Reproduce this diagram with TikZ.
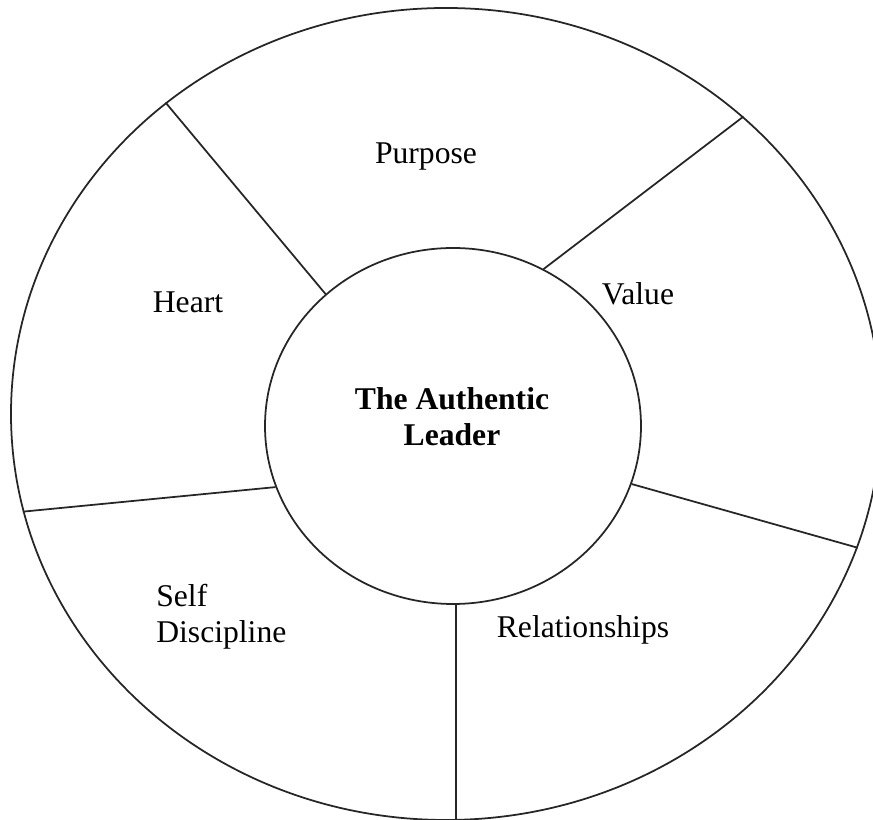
\documentclass[tikz,border=0pt]{standalone}
\usepackage{fontspec}
\setmainfont{Liberation Serif}
\usetikzlibrary{shapes.geometric}

\begin{document}
\begin{tikzpicture}[
        wheel/.style={draw=black!85, line width=1pt, ellipse, inner sep=0pt},
        spoke/.style={draw=black!85, line width=1pt},
        sector/.style={font=\fontsize{18}{20.5}\selectfont, inner sep=0pt}
    ]
    \useasboundingbox (0, 0) rectangle (17.46, 16.4);

    % rim and hub
    \node[wheel, minimum width=17.4cm, minimum height=16.24cm] (rim) at (8.92, 8.12) {};
    \node[wheel, minimum width=7.52cm, minimum height=7.12cm] (hub) at (9.06, 7.88) {};

    % spokes between the sectors
    \draw[spoke] (hub.134) -- (rim.132);
    \draw[spoke] (hub.60) -- (rim.45);
    \draw[spoke] (hub.342) -- (rim.342);
    \draw[spoke] (hub.271) -- (hub.271 |- rim.south);
    \draw[spoke] (hub.199) -- (rim.193);

    \node[sector, anchor=base] (purpose) at (8.52, 13.12) {Purpose};
    \node[sector, anchor=base] (heart) at (3.76, 10.14) {Heart};
    \node[sector, anchor=base] (value) at (12.76, 10.30) {Value};
    \node[sector, anchor=west, align=left] (discipline) at (3.12, 4.06) {Self\\Discipline};
    \node[sector, anchor=base] (relationships) at (11.66, 3.64) {Relationships};

    \node[sector, font=\fontsize{18}{20.5}\selectfont\bfseries, align=center] (leader) at (9.04, 8.06) {The Authentic\\Leader};
\end{tikzpicture}
\end{document}
